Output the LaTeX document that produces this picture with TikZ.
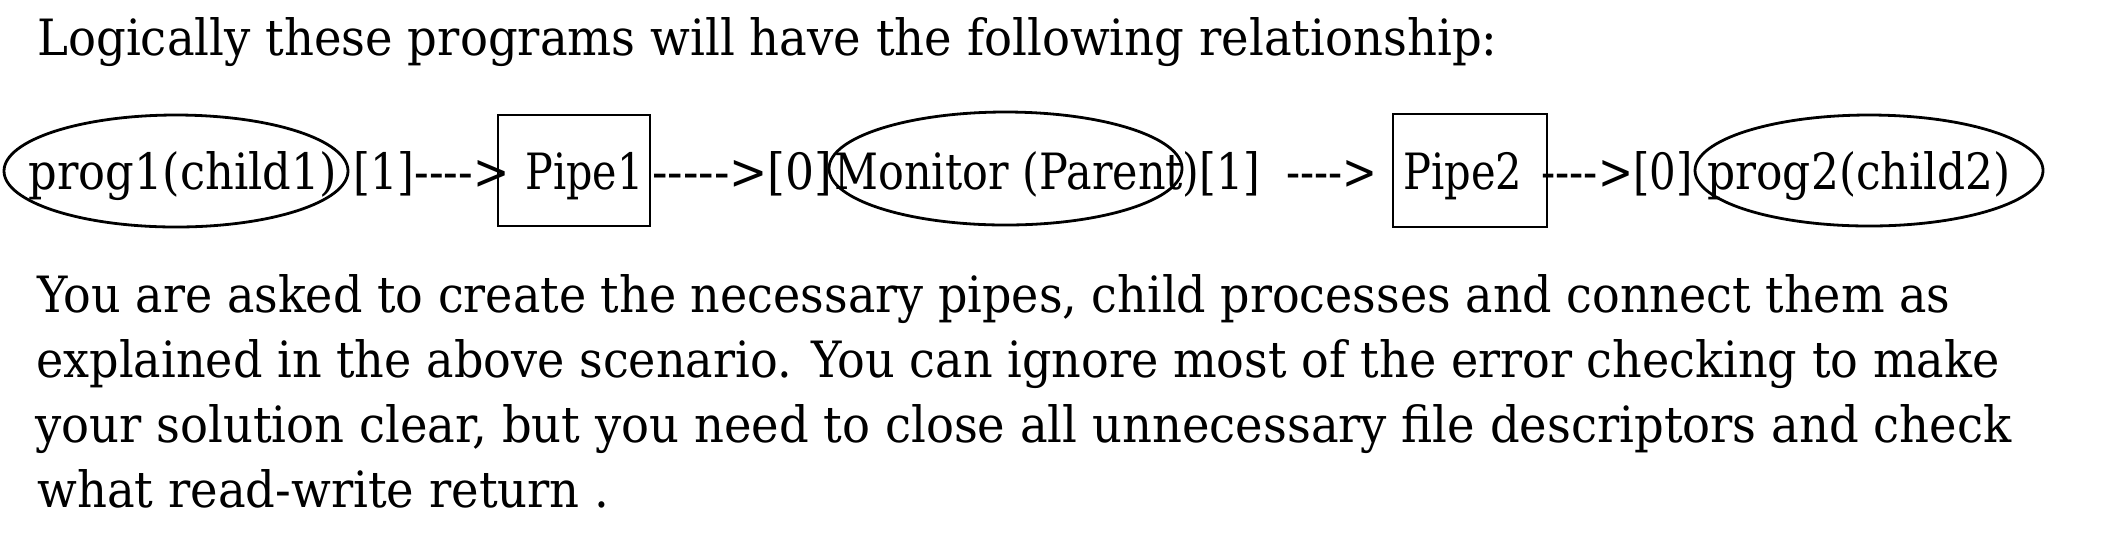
\documentclass[tikz,border=0pt]{standalone}
\usepackage{fontspec}
\usepackage{graphicx}
\setmainfont{DejaVu Serif}[Ligatures=TeXOff]
\usetikzlibrary{shapes.geometric}
\newcommand\fitw[2]{\resizebox{#1pt}{\height}{#2}}
\tikzset{
  txt/.style={anchor=base west, inner sep=0pt, font=\fontsize{25}{30}\selectfont},
  procshape/.style={draw, ellipse, line width=1.4pt, inner sep=0pt},
  pipeshape/.style={draw, rectangle, line width=1.4pt, inner sep=0pt}
}
\begin{document}
\begin{tikzpicture}[x=0.5pt,y=-0.5pt]
\useasboundingbox[fill=white] (0,0) rectangle (2112,538);
% title
\node[txt] (title) at (37,55) {\fitw{730}{Logically these programs will have the following relationship:}};
% diagram row text
\node[txt] (r1) at (28,189) {\fitw{154.5}{prog1(child1)}};
\node[txt] (r2) at (353,189) {\fitw{78}{[1]---->}};
\node[txt] (r3) at (525,189) {\fitw{59}{Pipe1}};
\node[txt] (r4) at (652,189) {\fitw{90}{----->[0]}};
\node[txt] (r5) at (834,189) {\fitw{213}{Monitor (Parent)[1]}};
\node[txt] (r6) at (1286,189) {\fitw{45.5}{---->}};
\node[txt] (r7) at (1403,189) {\fitw{59.5}{Pipe2}};
\node[txt] (r8) at (1541,189) {\fitw{75.5}{---->[0]}};
\node[txt] (r9) at (1707,189) {\fitw{151.5}{prog2(child2)}};
% shapes
\node[procshape, minimum width=172pt, minimum height=56pt] (child1) at (176,171) {};
\node[pipeshape, minimum width=76pt, minimum height=55.5pt] (pipe1) at (574,170.5) {};
\node[procshape, minimum width=176.5pt, minimum height=56.5pt] (parent) at (1005.5,168.5) {};
\node[pipeshape, minimum width=77pt, minimum height=56.5pt] (pipe2) at (1470,170.5) {};
\node[procshape, minimum width=174pt, minimum height=55.5pt] (child2) at (1869,170.5) {};
% paragraph
\node[txt] (l1) at (37,312) {\fitw{956.5}{You are asked to create the necessary pipes, child processes and connect them as}};
\node[txt] (l2) at (36,377) {\fitw{981.5}{explained in the above scenario. You can ignore most of the error checking to make}};
\node[txt] (l3) at (35,442) {\fitw{988}{your solution clear, but you need to close all unnecessary file descriptors and check}};
\node[txt] (l4) at (37,507) {\fitw{286}{what read-write return .}};
\end{tikzpicture}
\end{document}
